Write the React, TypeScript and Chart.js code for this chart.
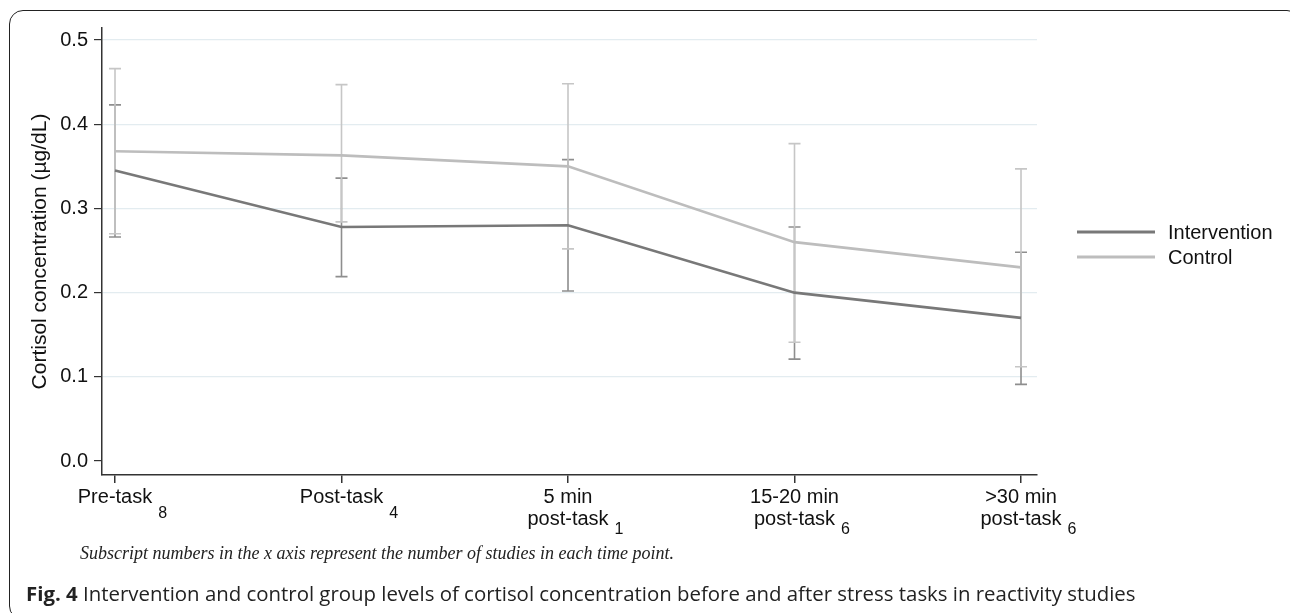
import React, { useEffect, useRef } from "react";
import { Chart, registerables } from "chart.js";

Chart.register(...registerables);

// ---- data ----
const timePoints = ["Pre-task", "Post-task", "5 min post-task", "15-20 min post-task", ">30 min post-task"];
const labelLine1 = ["Pre-task", "Post-task", "5 min", "15-20 min", ">30 min"];
const labelLine2 = ["", "", "post-task", "post-task", "post-task"];
const studyCounts = ["8", "4", "1", "6", "6"];

const interventionMean = [0.345, 0.278, 0.28, 0.2, 0.17];
const interventionLow = [0.266, 0.219, 0.202, 0.121, 0.091];
const interventionHigh = [0.423, 0.336, 0.358, 0.278, 0.248];

const controlMean = [0.368, 0.363, 0.35, 0.26, 0.23];
const controlLow = [0.27, 0.284, 0.252, 0.141, 0.112];
const controlHigh = [0.466, 0.447, 0.448, 0.377, 0.347];

const yTicks = [0, 0.1, 0.2, 0.3, 0.4, 0.5];

const FONT = '"Liberation Sans", Arial, Helvetica, sans-serif';
const INT_COLOR = "#787878";
const CTL_COLOR = "#bdbdbd";
const INT_ERR = "#8e8e8e";
const CTL_ERR = "#c6c6c6";

const errorBarPlugin = {
  id: "errorBars",
  beforeDatasetsDraw(chart: any) {
    const { ctx } = chart;
    const xs = chart.scales.x;
    const ys = chart.scales.y;
    const groups = [
      { low: interventionLow, high: interventionHigh, color: INT_ERR },
      { low: controlLow, high: controlHigh, color: CTL_ERR },
    ];
    ctx.save();
    ctx.lineWidth = 1.6;
    groups.forEach((g) => {
      ctx.strokeStyle = g.color;
      g.low.forEach((lo: number, i: number) => {
        const x = xs.getPixelForValue(i);
        const y1 = ys.getPixelForValue(lo);
        const y2 = ys.getPixelForValue(g.high[i]);
        ctx.beginPath();
        ctx.moveTo(x, y1);
        ctx.lineTo(x, y2);
        ctx.moveTo(x - 6, y1);
        ctx.lineTo(x + 6, y1);
        ctx.moveTo(x - 6, y2);
        ctx.lineTo(x + 6, y2);
        ctx.stroke();
      });
    });
    ctx.restore();
  },
};

const labelsAndLegendPlugin = {
  id: "labelsAndLegend",
  afterDraw(chart: any) {
    const { ctx, chartArea } = chart;
    const xs = chart.scales.x;
    const mainFont = `20px ${FONT}`;
    const subFont = `16px ${FONT}`;
    ctx.save();
    ctx.fillStyle = "#111";
    ctx.textBaseline = "alphabetic";
    const base = chartArea.bottom;
    labelLine1.forEach((t, i) => {
      const x = xs.getPixelForValue(i);
      ctx.font = mainFont;
      ctx.textAlign = "center";
      ctx.fillText(t, x, base + 28);
      let last = t;
      let lastY = base + 28;
      let subOff = 15;
      if (labelLine2[i]) {
        ctx.fillText(labelLine2[i], x, base + 50);
        last = labelLine2[i];
        lastY = base + 50;
        subOff = 9;
      }
      const w = ctx.measureText(last).width;
      ctx.font = subFont;
      ctx.textAlign = "left";
      ctx.fillText(studyCounts[i], x + w / 2 + 6, lastY + subOff);
    });

    // legend
    const items = [
      { label: chart.data.datasets[0].label, color: INT_COLOR },
      { label: chart.data.datasets[1].label, color: CTL_COLOR },
    ];
    const lx = chartArea.right + 40;
    items.forEach((it, k) => {
      const y = 232 + k * 25;
      ctx.strokeStyle = it.color;
      ctx.lineWidth = 2.8;
      ctx.beginPath();
      ctx.moveTo(lx, y);
      ctx.lineTo(lx + 78, y);
      ctx.stroke();
      ctx.font = mainFont;
      ctx.textAlign = "left";
      ctx.textBaseline = "middle";
      ctx.fillStyle = "#111";
      ctx.fillText(it.label, lx + 91, y + 1);
    });
    ctx.restore();
  },
};

export default function App() {
  const canvasRef = useRef<HTMLCanvasElement | null>(null);

  useEffect(() => {
    if (!canvasRef.current) return;
    const chart = new Chart(canvasRef.current, {
      type: "line",
      data: {
        datasets: [
          {
            label: "Intervention",
            data: interventionMean.map((y, i) => ({ x: i, y })),
            borderColor: INT_COLOR,
            backgroundColor: INT_COLOR,
            borderWidth: 2.6,
            pointRadius: 0,
            fill: false,
            tension: 0,
          },
          {
            label: "Control",
            data: controlMean.map((y, i) => ({ x: i, y })),
            borderColor: CTL_COLOR,
            backgroundColor: CTL_COLOR,
            borderWidth: 2.6,
            pointRadius: 0,
            fill: false,
            tension: 0,
          },
        ],
      },
      options: {
        animation: false,
        responsive: false,
        devicePixelRatio: 1,
        layout: { padding: { left: 8, top: 28, right: 253, bottom: 130 } },
        plugins: { legend: { display: false }, tooltip: { enabled: false } },
        scales: {
          x: {
            type: "linear",
            min: -0.0574,
            max: 4.0706,
            afterBuildTicks: (s: any) => {
              s.ticks = timePoints.map((_, i) => ({ value: i }));
            },
            ticks: { display: false },
            grid: {
              drawOnChartArea: false,
              drawTicks: true,
              tickLength: 8,
              color: "#333",
              tickColor: "#333",
              lineWidth: 1.5,
            },
            border: { display: true, color: "#333", width: 1.5 },
          },
          y: {
            type: "linear",
            min: -0.0166,
            max: 0.5143,
            afterBuildTicks: (s: any) => {
              s.ticks = yTicks.map((v) => ({ value: v }));
            },
            afterFit: (s: any) => {
              s.width = 94;
            },
            ticks: {
              callback: (v: any) => Number(v).toFixed(1),
              font: { size: 20, family: FONT },
              color: "#111",
              padding: 6,
            },
            grid: {
              color: (c: any) => (c.tick && c.tick.value === 0 ? "rgba(0,0,0,0)" : "#e3ecf0"),
              tickColor: "#333",
              tickLength: 8,
              lineWidth: 1.2,
            },
            border: { display: true, color: "#333", width: 1.5 },
            title: {
              display: true,
              text: "Cortisol concentration (µg/dL)",
              font: { size: 21, family: FONT },
              color: "#111",
              padding: { top: 20, bottom: 0 },
            },
          },
        },
      },
      plugins: [errorBarPlugin, labelsAndLegendPlugin],
    } as any);
    return () => chart.destroy();
  }, []);

  return (
    <div
      style={{
        position: "fixed",
        left: 0,
        top: 0,
        width: 1290,
        height: 613,
        overflow: "hidden",
        background: "#fff",
      }}
    >
      <div
        style={{
          position: "absolute",
          left: 9,
          top: 10,
          width: 1292,
          height: 610,
          border: "1.5px solid #222",
          borderRadius: 14,
          boxSizing: "border-box",
        }}
      />
      <canvas
        ref={canvasRef}
        width={1290}
        height={613}
        style={{ position: "absolute", left: 0, top: 0, width: 1290, height: 613 }}
      />
      <div
        style={{
          position: "absolute",
          left: 80,
          top: 543,
          font: 'italic 18px "Liberation Serif", "Times New Roman", serif',
          lineHeight: "20px",
          color: "#222",
          whiteSpace: "nowrap",
        }}
      >
        Subscript numbers in the x axis represent the number of studies in each time point.
      </div>
      <div
        style={{
          position: "absolute",
          left: 26,
          top: 581,
          font: '20.4px "Open Sans", "Noto Sans", sans-serif',
          lineHeight: "24px",
          color: "#222",
          whiteSpace: "nowrap",
        }}
      >
        <b>Fig. 4</b> Intervention and control group levels of cortisol concentration before and after stress tasks in reactivity studies
      </div>
    </div>
  );
}
